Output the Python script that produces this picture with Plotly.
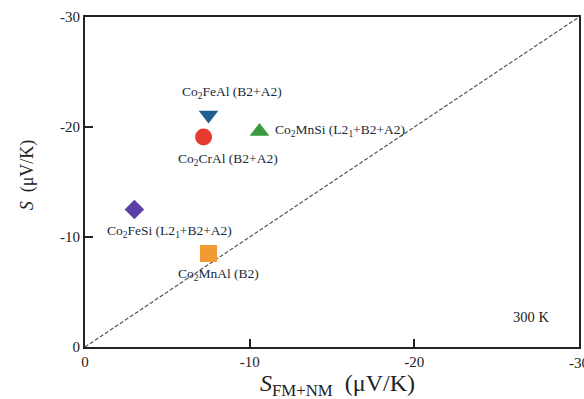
import plotly.graph_objects as go

# Seebeck coefficients at 300 K (μV/K)
compounds = ["Co2FeAl", "Co2CrAl", "Co2MnSi", "Co2FeSi", "Co2MnAl"]
labels = [
    "Co<sub>2</sub>FeAl (B2+A2)",
    "Co<sub>2</sub>CrAl (B2+A2)",
    "Co<sub>2</sub>MnSi (L2<sub>1</sub>+B2+A2)",
    "Co<sub>2</sub>FeSi (L2<sub>1</sub>+B2+A2)",
    "Co<sub>2</sub>MnAl (B2)",
]
s_fm_nm = [-7.5, -7.2, -10.6, -3.0, -7.5]
s_meas = [-21.1, -19.1, -19.6, -12.5, -8.5]
symbols = ["triangle-down", "circle", "triangle-up", "diamond", "square"]
colors = ["#1d5e93", "#e63b2e", "#3a9a3e", "#5b3ea6", "#f29a33"]
sizes = [17, 17, 17, 15, 17]
# label offsets in pixels (x, y) and horizontal anchor
offsets = [(23, 22, "center"), (24, -23, "center"), (13, 1, "left"),
           (35, -22, "center"), (10, -21, "center")]

tick_vals = [0, -10, -20, -30]
tick_text = ["0", "-10", "-20", "-30"]
diag = [0, -30]

serif = "Liberation Serif"
ink = "#222222"
fig = go.Figure()

fig.add_trace(go.Scatter(
    x=diag, y=diag, mode="lines",
    line=dict(color="#555555", width=1.2, dash="4px,2px"),
    hoverinfo="skip", showlegend=False,
))

for name, x, y, sym, c, sz in zip(compounds, s_fm_nm, s_meas, symbols, colors, sizes):
    fig.add_trace(go.Scatter(
        x=[x], y=[y], mode="markers", name=name,
        marker=dict(symbol=sym, color=c, size=sz, line=dict(width=0)),
        showlegend=False,
    ))

for lab, x, y, (dx, dy, anc) in zip(labels, s_fm_nm, s_meas, offsets):
    fig.add_annotation(
        x=x, y=y, text=lab, showarrow=False,
        xshift=dx, yshift=dy, xanchor=anc, yanchor="middle",
        font=dict(family=serif, size=13.5, color="#1a2a3a"),
    )

fig.add_annotation(
    x=-27.1, y=-2.7, text="300 K", showarrow=False,
    xanchor="center", yanchor="middle",
    font=dict(family=serif, size=14.5, color=ink),
)

# axis titles
fig.add_annotation(
    xref="paper", yref="paper", x=0.512, y=-0.115,
    text="<i>S</i><sub>FM+NM</sub>  (μV/K)", showarrow=False,
    xanchor="center", yanchor="middle",
    font=dict(family=serif, size=24, color=ink),
)
fig.add_annotation(
    xref="paper", yref="paper", x=-0.117, y=0.521,
    text="<i>S</i>  (μV/K)", showarrow=False, textangle=-90,
    xanchor="center", yanchor="middle",
    font=dict(family=serif, size=18, color=ink),
)

axis_common = dict(
    range=[0, -30], tickvals=tick_vals,
    showgrid=False, zeroline=False,
    showline=True, linewidth=2, linecolor=ink, mirror=True,
    ticks="inside", ticklen=8, tickwidth=2, tickcolor=ink,
    tickfont=dict(family=serif, size=15, color=ink),
    automargin=False,
)

# the last x tick label sits on the page edge; draw it separately so it
# is simply cut off by the page instead of shrinking the plot area
fig.update_xaxes(**axis_common, ticktext=tick_text[:-1] + [""])
fig.update_yaxes(**axis_common, ticktext=tick_text)
fig.add_annotation(
    x=tick_vals[-1], y=0, yref="paper", text=tick_text[-1], showarrow=False,
    xanchor="center", yanchor="top", yshift=-6,
    font=dict(family=serif, size=15, color=ink),
)

fig.update_layout(
    width=584, height=399,
    margin=dict(l=85, r=5, t=17, b=52),
    plot_bgcolor="white", paper_bgcolor="white",
)

fig.write_html("out.html")
